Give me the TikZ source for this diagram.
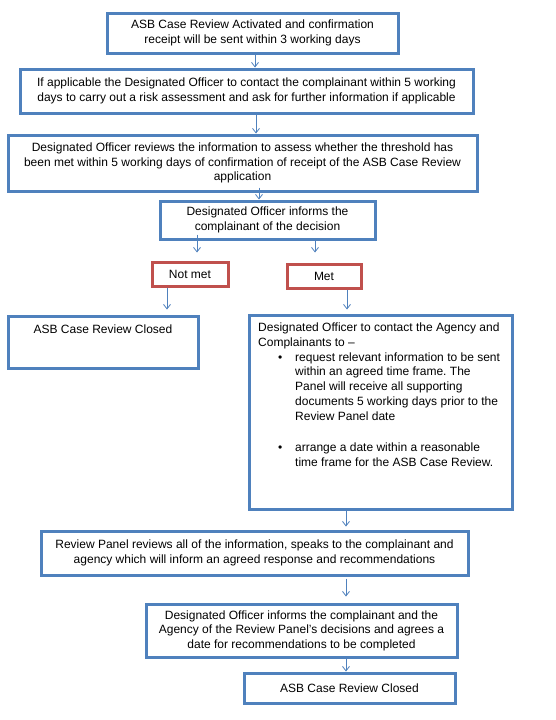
\documentclass[tikz,border=0pt]{standalone}
\usepackage{fontspec}
\setmainfont{Liberation Sans}
\usetikzlibrary{arrows.meta}
\definecolor{boxblue}{HTML}{4F81BD}
\definecolor{boxred}{HTML}{C0504D}
\definecolor{arrblue}{HTML}{4F81BD}
\frenchspacing
\begin{document}
\begin{tikzpicture}[x=1pt,y=-1pt,
  every node/.style={font=\fontsize{12}{14.5}\selectfont},
  bluebox/.style={draw=boxblue, line width=3pt, inner sep=0pt, align=center},
  redbox/.style={draw=boxred, line width=3pt, inner sep=0pt, align=center},
  arr/.style={draw=arrblue, line width=0.8pt, -{Straight Barb[length=4.5pt,width=7pt]}},
  txt/.style={inner sep=0pt, align=left, anchor=north west, font=\fontsize{12}{14.8}\selectfont}]
\useasboundingbox (0,0) rectangle (556,720);
\fill[white] (0,0) rectangle (556,720);

\node[bluebox, minimum width=291pt, minimum height=40pt] (b1) at (252.5,33)
  {ASB Case Review Activated and confirmation\\receipt will be sent within 3 working days};
\node[bluebox, minimum width=453pt, minimum height=44pt] (b2) at (246.5,91)
  {If applicable the Designated Officer to contact the complainant within 5 working\\days to carry out a risk assessment and ask for further information if applicable};
\node[bluebox, minimum width=469pt, minimum height=56pt] (b3) at (242.5,163)
  {Designated Officer reviews the information to assess whether the threshold has\\been met within 5 working days of confirmation of receipt of the ASB Case Review\\application};
\node[bluebox, minimum width=215pt, minimum height=38pt] (b4) at (267.5,220)
  {Designated Officer informs the\\complainant of the decision};
\node[redbox, minimum width=76pt, minimum height=24pt] (notmet) at (190,274) {Not met};
\node[redbox, minimum width=74pt, minimum height=24pt] (met) at (324,276) {Met};
\node[bluebox, minimum width=190pt, minimum height=52pt] (closedA) at (103,342) {};
\node[anchor=base, inner sep=0pt] (closedAtxt) at (103,333.5) {ASB Case Review Closed};
\node[bluebox, minimum width=263pt, minimum height=194pt] (big) at (380.5,412) {};
\node[txt] (intro) at (258,322.7) {Designated Officer to contact the Agency and\\Complainants to –};
\node[anchor=base west, inner sep=0pt] (bul1) at (278,361) {•};
\node[txt] (item1) at (295,352.2) {request relevant information to be sent\\within an agreed time frame. The\\Panel will receive all supporting\\documents 5 working days prior to the\\Review Panel date};
\node[anchor=base west, inner sep=0pt] (bul2) at (278,451.5) {•};
\node[txt] (item2) at (295,442.7) {arrange a date within a reasonable\\time frame for the ASB Case Review.};
\node[bluebox, minimum width=427pt, minimum height=44pt] (review) at (254.5,553)
  {Review Panel reviews all of the information, speaks to the complainant and\\agency which will inform an agreed response and recommendations};
\node[bluebox, minimum width=311pt, minimum height=53pt] (doinf) at (301.5,630.5)
  {Designated Officer informs the complainant and the\\Agency of the Review Panel’s decisions and agrees a\\date for recommendations to be completed};
\node[bluebox, minimum width=211pt, minimum height=30pt] (final) at (349.5,688) {ASB Case Review Closed};

\coordinate (a1) at ([xshift=2.5pt]b1.south);
\draw[arr] (a1) -- (a1 |- b2.north);
\coordinate (a2) at ([xshift=9.5pt]b2.south);
\draw[arr] (a2) -- (a2 |- b3.north);
\coordinate (a3) at ([xshift=16.5pt]b3.south);
\draw[arr, shorten <=-5pt] (a3) -- (a3 |- b4.north);
\coordinate (a4) at ([xshift=-70.5pt]b4.south);
\draw[arr, shorten <=-6pt, shorten >=8pt] (a4) -- (a4 |- notmet.north);
\coordinate (a5) at ([xshift=47.5pt]b4.south);
\draw[arr, shorten >=10pt] (a5) -- (a5 |- met.north);
\coordinate (a6) at ([xshift=-23pt]notmet.south);
\draw[arr, shorten >=5pt] (a6) -- (a6 |- closedA.north);
\coordinate (a7) at ([xshift=23pt]met.south);
\draw[arr, shorten >=4pt] (a7) -- (a7 |- big.north);
\coordinate (a8) at ([xshift=-34.5pt]big.south);
\draw[arr, shorten >=3pt] (a8) -- (a8 |- review.north);
\coordinate (a9) at ([xshift=91.5pt]review.south);
\draw[arr, shorten <=2pt, shorten >=6pt] (a9) -- (a9 |- doinf.north);
\coordinate (a10) at ([xshift=44.5pt]doinf.south);
\draw[arr] (a10) -- (a10 |- final.north);
\end{tikzpicture}
\end{document}
